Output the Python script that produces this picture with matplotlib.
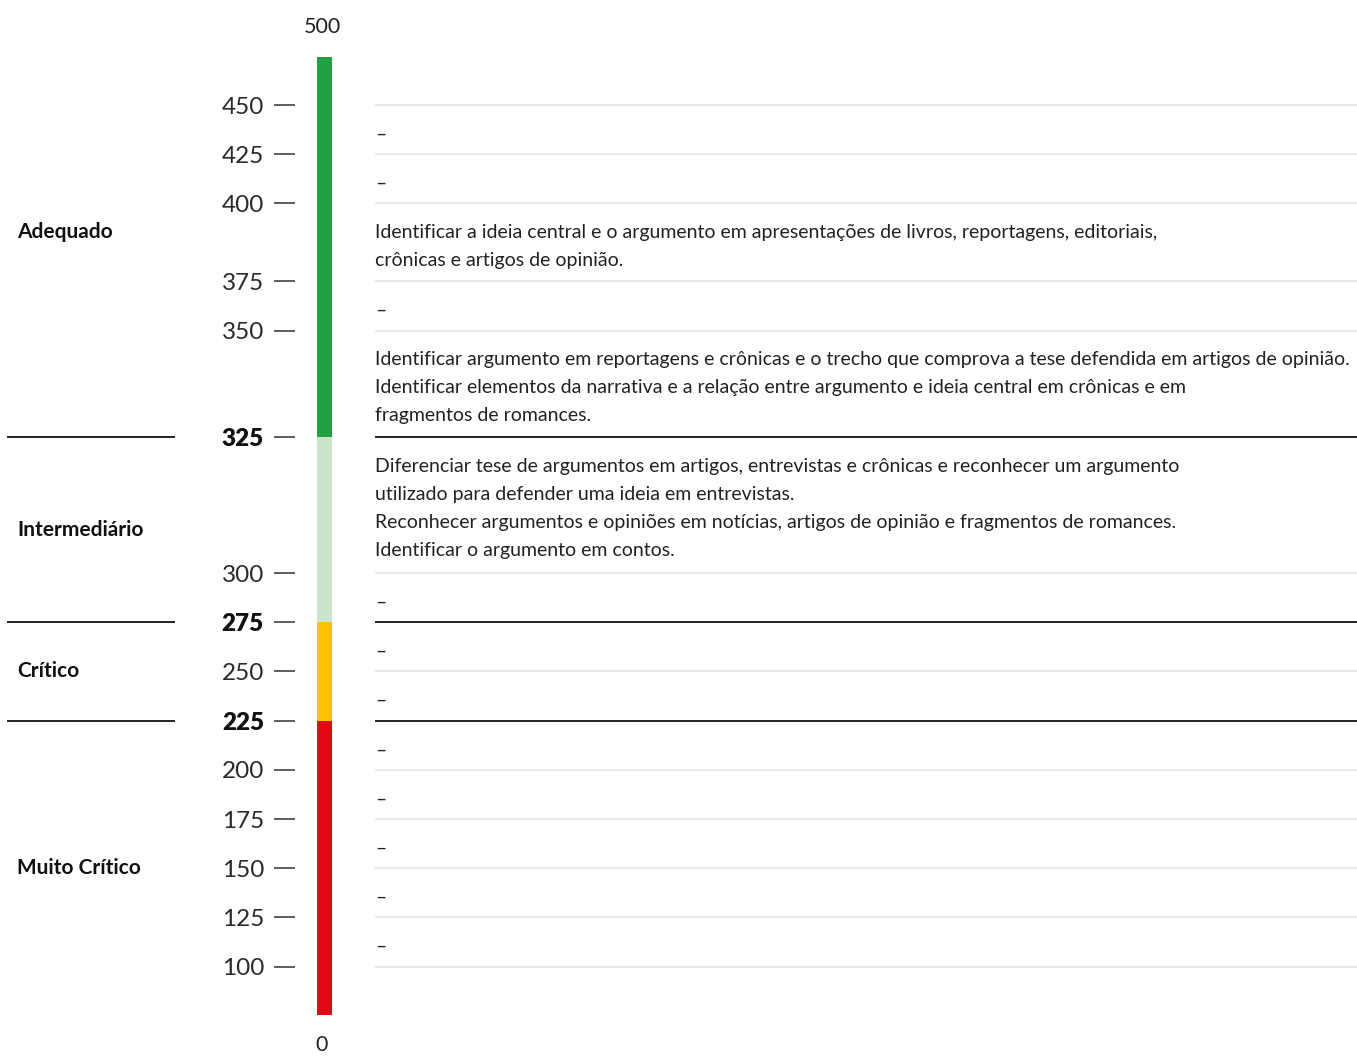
import numpy as np
import matplotlib.pyplot as plt

W, H = 1357, 1056  # tamanho da figura em pixels

# Níveis de proficiência (limites na escala 0-500)
level_bounds = [0, 225, 275, 325, 500]
level_names = ["Muito Crítico", "Crítico", "Intermediário", "Adequado"]
level_colors = ["#e30613", "#fdc300", "#cbe5cd", "#22a143"]

# Marcas da escala, de cima para baixo
ticks = [450, 425, 400, 375, 350, 325, 300, 275, 250, 225, 200, 175, 150, 125, 100]
cut_ticks = [325, 275, 225]

# Descritores de cada faixa (entre ticks[i] e ticks[i+1])
descriptors = [
    "–",
    "–",
    "Identificar a ideia central e o argumento em apresentações de livros, reportagens, editoriais,\n"
    "crônicas e artigos de opinião.",
    "–",
    "Identificar argumento em reportagens e crônicas e o trecho que comprova a tese defendida em artigos de opinião.\n"
    "Identificar elementos da narrativa e a relação entre argumento e ideia central em crônicas e em\n"
    "fragmentos de romances.",
    "Diferenciar tese de argumentos em artigos, entrevistas e crônicas e reconhecer um argumento\n"
    "utilizado para defender uma ideia em entrevistas.\n"
    "Reconhecer argumentos e opiniões em notícias, artigos de opinião e fragmentos de romances.\n"
    "Identificar o argumento em contos.",
    "–", "–", "–", "–", "–", "–", "–", "–",
]

# layout: altura de cada faixa depende do numero de linhas do texto
ROW, LINE = 49.2, 28.8
px = [57, 57 + 48]
for d in descriptors:
    px.append(px[-1] + ROW + LINE * d.count("\n"))
px.append(px[-1] + 48)
vals = [500] + ticks + [0]
vals = [559.4] + vals + [-86]
px = [0] + px + [H]
vals_asc = np.array(vals[::-1], dtype=float)
up_asc = H - np.array(px[::-1], dtype=float)


def fwd(v):
    return np.interp(v, vals_asc, up_asc)


def inv(u):
    return np.interp(u, up_asc, vals_asc)


plt.rcParams["font.family"] = ["Lato", "DejaVu Sans"]

fig = plt.figure(figsize=(W / 100, H / 100), dpi=100)
ax = fig.add_axes([0, 0, 1, 1])
ax.set_xlim(0, W)
ax.set_yscale("function", functions=(fwd, inv))
ax.set_ylim(-86, 559.4)
ax.axis("off")

# barra colorida
for lo, hi, c in zip(level_bounds[:-1], level_bounds[1:], level_colors):
    ax.bar(324.5, hi - lo, bottom=lo, width=15, color=c, linewidth=0)

# rotulos extremos
ax.annotate("500", (322, 500), xytext=(0, 21.5), textcoords="offset points",
            ha="center", va="center", fontsize=15.5, color="#222222")
ax.annotate("0", (322, 0), xytext=(0, -22), textcoords="offset points",
            ha="center", va="center", fontsize=15.5, color="#222222")

# marcas e rotulos da escala
ax.hlines(ticks, 274, 295, color="#333333", linewidth=1.1)
for t in ticks:
    bold = t in cut_ticks
    ax.annotate(str(t), (264, t), xytext=(0, -1.5), textcoords="offset points",
                ha="right", va="center", fontsize=17.5,
                fontweight="heavy" if bold else "normal",
                color="#111111" if bold else "#2a2a2a")

# linhas das faixas
for t in ticks:
    if t in cut_ticks:
        ax.hlines(t, 375, W, color="#111111", linewidth=1.3)
        ax.hlines(t, 7, 175, color="#111111", linewidth=1.3)
    else:
        ax.hlines(t, 375, W, color="#e2e2e2", linewidth=1.1)

# descritores
for top, d in zip(ticks[:-1], descriptors):
    ax.annotate(d, (375, top), xytext=(0, -15), textcoords="offset points",
                ha="left", va="top", fontsize=14, linespacing=1.78, color="#222222")

# nomes dos niveis
label_up = fwd(500) + 31
for i, name in enumerate(level_names):
    lo = fwd(level_bounds[i])
    hi = label_up if i == len(level_names) - 1 else fwd(level_bounds[i + 1])
    ax.text(17, inv((lo + hi) / 2), name, ha="left", va="center",
            fontsize=15, fontweight="bold", color="#111111")

fig.savefig("out.png", dpi=100)
